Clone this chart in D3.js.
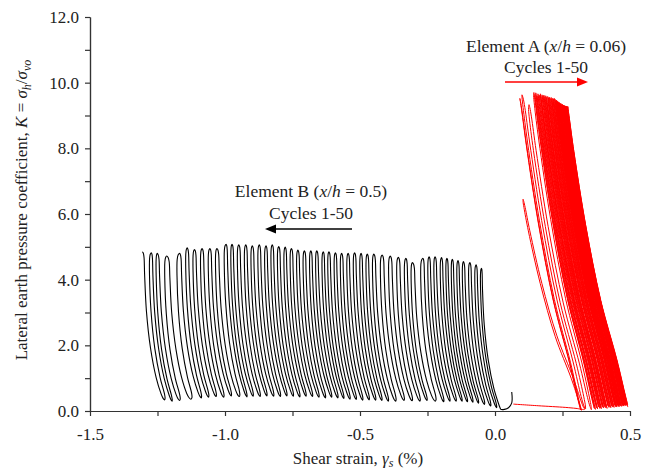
<!DOCTYPE html>
<html>
<head>
<meta charset="utf-8">
<script src="https://cdnjs.cloudflare.com/ajax/libs/d3/7.8.5/d3.min.js"></script>
<style>
  body { margin: 0; background: #fff; }
  svg text { font-family: "Liberation Serif", "Times New Roman", serif; fill: #222; }
</style>
</head>
<body>
<div id="chart"></div>
<script>
// ---------------- DATA ----------------
var xTickValues = [-1.5, -1.0, -0.5, 0.0, 0.5];
var xMinorTicks = [-1.25, -0.75, -0.25, 0.25];
var yTickValues = [0, 2, 4, 6, 8, 10, 12];
var yMinorTicks = [1, 3, 5, 7, 9, 11];

// Element B (x/h = 0.5), black, cycles 1 -> 50 (moving left)
var bStart = [[0.062, 0.58], [0.062, 0.25], [0.050, 0.10], [0.035, 0.05]];
var bTroughStrain = [0.022, 0.006, -0.016, -0.039, -0.061, -0.082, -0.102, -0.122, -0.144, -0.167,
  -0.190, -0.221, -0.252, -0.278, -0.307, -0.337, -0.368, -0.395, -0.419, -0.442,
  -0.466, -0.490, -0.514, -0.537, -0.560, -0.582, -0.605, -0.628, -0.652, -0.676,
  -0.700, -0.723, -0.747, -0.771, -0.795, -0.820, -0.845, -0.870, -0.896, -0.919,
  -0.947, -0.977, -1.005, -1.033, -1.061, -1.088, -1.126, -1.168, -1.196, -1.224];
var bTroughK = [0.05, 0.10, 0.15, 0.20, 0.24, 0.27, 0.28, 0.30, 0.30, 0.30,
  0.28, 0.30, 0.32, 0.30, 0.31, 0.32, 0.30, 0.30, 0.32, 0.33,
  0.34, 0.33, 0.35, 0.36, 0.38, 0.40, 0.42, 0.40, 0.42, 0.44,
  0.45, 0.43, 0.45, 0.46, 0.44, 0.45, 0.46, 0.44, 0.45, 0.43,
  0.44, 0.46, 0.42, 0.44, 0.42, 0.40, 0.36, 0.32, 0.30, 0.34];
var bPeakStrain = [-0.050, -0.070, -0.093, -0.117, -0.137, -0.158, -0.178, -0.198, -0.222, -0.244,
  -0.267, -0.306, -0.330, -0.358, -0.388, -0.418, -0.449, -0.473, -0.496, -0.520,
  -0.544, -0.568, -0.591, -0.615, -0.636, -0.660, -0.682, -0.706, -0.730, -0.754,
  -0.777, -0.801, -0.825, -0.848, -0.873, -0.899, -0.923, -0.949, -0.974, -0.996,
  -1.030, -1.056, -1.085, -1.113, -1.140, -1.168, -1.216, -1.251, -1.273, -1.306];
var bPeakK = [4.35, 4.45, 4.52, 4.55, 4.58, 4.62, 4.65, 4.67, 4.70, 4.70,
  4.65, 4.52, 4.65, 4.68, 4.72, 4.75, 4.78, 4.78, 4.80, 4.82,
  4.80, 4.80, 4.82, 4.85, 4.85, 4.88, 4.88, 4.88, 4.90, 4.95,
  4.99, 5.01, 5.06, 5.03, 5.06, 5.03, 5.06, 5.06, 5.08, 5.08,
  4.95, 4.95, 4.95, 4.92, 4.97, 4.80, 4.72, 4.80, 4.82, 4.85];
var bLean = -0.066;

// Element A (x/h = 0.06), red, cycles 1 -> 50 (moving right)
var aStart = [[0.068, 0.21], [0.160, 0.16], [0.260, 0.11], [0.300, 0.08]];
var aTroughStrain = [0.332, 0.320, 0.318, 0.335, 0.357, 0.368, 0.372, 0.376, 0.380, 0.384,
  0.388, 0.391, 0.394, 0.398, 0.402, 0.405, 0.409, 0.412, 0.415, 0.419,
  0.422, 0.425, 0.429, 0.432, 0.435, 0.438, 0.441, 0.444, 0.447, 0.449,
  0.451, 0.453, 0.456, 0.458, 0.460, 0.462, 0.464, 0.466, 0.469, 0.471,
  0.473, 0.475, 0.477, 0.479, 0.481, 0.483, 0.485, 0.487, 0.489, 0.491];
var aTroughK = [0.05, 0.02, 0.03, 0.06, 0.04, 0.08, 0.05, 0.10, 0.06, 0.12,
  0.08, 0.10, 0.07, 0.12, 0.09, 0.14, 0.10, 0.12, 0.08, 0.15,
  0.11, 0.13, 0.10, 0.16, 0.12, 0.14, 0.11, 0.17, 0.13, 0.15,
  0.12, 0.18, 0.14, 0.16, 0.13, 0.18, 0.15, 0.17, 0.14, 0.19,
  0.16, 0.18, 0.15, 0.20, 0.17, 0.19, 0.16, 0.20, 0.18, 0.20];
var aPeakStrain = [0.104, 0.092, 0.100, 0.126, 0.144, 0.148, 0.151, 0.156, 0.159, 0.164,
  0.168, 0.170, 0.174, 0.178, 0.181, 0.185, 0.188, 0.191, 0.195, 0.198,
  0.201, 0.205, 0.208, 0.211, 0.214, 0.217, 0.220, 0.223, 0.226, 0.228,
  0.230, 0.232, 0.235, 0.237, 0.239, 0.241, 0.243, 0.245, 0.248, 0.250,
  0.252, 0.254, 0.256, 0.258, 0.260, 0.262, 0.264, 0.266, 0.268, 0.270];
var aPeakK = [6.45, 9.52, 9.63, 9.33, 9.70, 9.64, 9.69, 9.60, 9.66, 9.62,
  9.66, 9.58, 9.63, 9.60, 9.62, 9.57, 9.60, 9.55, 9.58, 9.54,
  9.56, 9.52, 9.55, 9.50, 9.53, 9.50, 9.52, 9.49, 9.45, 9.47,
  9.42, 9.44, 9.40, 9.41, 9.37, 9.38, 9.35, 9.36, 9.33, 9.34,
  9.31, 9.32, 9.30, 9.30, 9.29, 9.29, 9.28, 9.28, 9.27, 9.27];
var aEnd = [0.492, 0.12];
var aLean = -0.222;

var shapeU = [0, 0.01, 0.04, 0.15, 0.35, 0.6, 0.85, 0.96, 0.99, 1];
var waveFrac = [0, 0.22, 0.38, 0.45, 0.48, 0.52, 0.55, 0.62, 0.78, 1];
var bLeanFrac = [0, 0.026, 0.10, 0.36, 0.67, 0.89, 0.985, 0.998, 1, 1];
var aLeanFrac = [0, 0.013, 0.05, 0.18, 0.45, 0.70, 0.90, 0.975, 0.995, 1];

// ---------------- CHART ----------------
var svgWidth = 666, svgHeight = 472;
var margin = { top: 17, right: 36, bottom: 61, left: 90 };
var chartWidth = svgWidth - margin.left - margin.right;
var chartHeight = svgHeight - margin.top - margin.bottom;

var svg = d3.select("#chart").append("svg")
  .attr("width", svgWidth)
  .attr("height", svgHeight);

var chartGroup = svg.append("g")
  .attr("transform", `translate(${margin.left}, ${margin.top})`);

var xScale = d3.scaleLinear().domain([-1.5, 0.5]).range([0, chartWidth]);
var yScale = d3.scaleLinear().domain([0, 12]).range([chartHeight, 0]);

// build the point list of one element: start -> (trough, peak) x 50 -> end
function loopPoints(start, tX, tK, pX, pK, lean, leanFrac, end) {
  var pts = start.slice();
  var n = pX.length;
  for (var i = 0; i < n; i++) {
    // rising branch, trough i -> peak i
    var span = pX[i] - tX[i] - lean;
    for (var j = 0; j < shapeU.length; j++) {
      pts.push([tX[i] + leanFrac[j] * lean + waveFrac[j] * span,
                tK[i] + shapeU[j] * (pK[i] - tK[i])]);
    }
    // falling branch, peak i -> next trough
    var nx, nk;
    if (i + 1 < n) { nx = tX[i + 1]; nk = tK[i + 1]; }
    else if (end) { nx = end[0]; nk = end[1]; }
    else break;
    var span2 = pX[i] - nx - lean;
    for (var k = shapeU.length - 2; k >= 1; k--) {
      pts.push([nx + leanFrac[k] * lean + waveFrac[k] * span2,
                nk + shapeU[k] * (pK[i] - nk)]);
    }
    if (i + 1 >= n) pts.push([nx, nk]);
  }
  return pts;
}

var line = d3.line()
  .x(d => xScale(d[0]))
  .y(d => yScale(d[1]))
  .curve(d3.curveCatmullRom.alpha(0.5));

// red first so the black start hook sits on top of it
chartGroup.append("path")
  .attr("d", line(loopPoints(aStart, aTroughStrain, aTroughK, aPeakStrain, aPeakK, aLean, aLeanFrac, aEnd)))
  .attr("fill", "none")
  .attr("stroke", "#ff0000")
  .attr("stroke-width", 1);

chartGroup.append("path")
  .attr("d", line(loopPoints(bStart, bTroughStrain, bTroughK, bPeakStrain, bPeakK, bLean, bLeanFrac, null)))
  .attr("fill", "none")
  .attr("stroke", "#000")
  .attr("stroke-width", 1.1);

// AXES
chartGroup.append("g")
  .attr("transform", `translate(0, ${chartHeight})`)
  .call(d3.axisBottom(xScale).tickValues(xTickValues).tickFormat(d => d.toFixed(1))
    .tickSizeInner(5).tickSizeOuter(0).tickPadding(12));
chartGroup.append("g")
  .attr("transform", `translate(0, ${chartHeight})`)
  .call(d3.axisBottom(xScale).tickValues(xMinorTicks).tickFormat("")
    .tickSizeInner(5).tickSizeOuter(0));

chartGroup.append("g")
  .call(d3.axisLeft(yScale).tickValues(yTickValues).tickFormat(d => d.toFixed(1))
    .tickSizeInner(5).tickSizeOuter(0).tickPadding(6));
chartGroup.append("g")
  .call(d3.axisLeft(yScale).tickValues(yMinorTicks).tickFormat("")
    .tickSizeInner(5).tickSizeOuter(0));

chartGroup.selectAll(".domain, .tick line").attr("stroke", "#333").attr("stroke-width", 1.2);
chartGroup.selectAll(".tick text")
  .style("font-family", '"Liberation Serif", "Times New Roman", serif')
  .style("font-size", "17px")
  .attr("fill", "#222");

// AXIS TITLES
var xTitle = svg.append("text")
  .attr("x", margin.left + chartWidth / 2 - 2)
  .attr("y", 464)
  .attr("text-anchor", "middle")
  .style("font-size", "17px");
xTitle.append("tspan").text("Shear strain, ");
xTitle.append("tspan").style("font-style", "italic").text("γ");
xTitle.append("tspan").style("font-style", "italic").style("font-size", "12px").attr("dy", 3).text("s");
xTitle.append("tspan").attr("dy", -3).text(" (%)");

var yTitle = svg.append("text")
  .attr("transform", `translate(27, ${margin.top + chartHeight / 2 - 4}) rotate(-90)`)
  .attr("text-anchor", "middle")
  .style("font-size", "17px");
yTitle.append("tspan").text("Lateral earth pressure coefficient, ");
yTitle.append("tspan").style("font-style", "italic").text("K");
yTitle.append("tspan").text(" = ");
yTitle.append("tspan").style("font-style", "italic").text("σ");
yTitle.append("tspan").style("font-style", "italic").style("font-size", "12px").attr("dy", 4).text("h");
yTitle.append("tspan").attr("dy", -4).text("/");
yTitle.append("tspan").style("font-style", "italic").text("σ");
yTitle.append("tspan").style("font-style", "italic").style("font-size", "12px").attr("dy", 4).text("vo");

// ANNOTATIONS
function elementLabel(x, y, name, ratio) {
  var t = svg.append("text").attr("x", x).attr("y", y)
    .attr("text-anchor", "middle").style("font-size", "17.5px");
  t.append("tspan").text("Element " + name + " (");
  t.append("tspan").style("font-style", "italic").text("x");
  t.append("tspan").text("/");
  t.append("tspan").style("font-style", "italic").text("h");
  t.append("tspan").text(" = " + ratio + ")");
}
elementLabel(311, 197, "B", "0.5");
svg.append("text").attr("x", 311).attr("y", 219).attr("text-anchor", "middle")
  .style("font-size", "17.5px").text("Cycles 1-50");
elementLabel(546, 52, "A", "0.06");
svg.append("text").attr("x", 546).attr("y", 73).attr("text-anchor", "middle")
  .style("font-size", "17.5px").text("Cycles 1-50");

function arrow(x1, x2, y, color) {
  var dir = x2 > x1 ? 1 : -1;
  svg.append("line")
    .attr("x1", x1).attr("y1", y).attr("x2", x2 - dir * 8).attr("y2", y)
    .attr("stroke", color).attr("stroke-width", 1.5);
  svg.append("path")
    .attr("d", `M${x2},${y} L${x2 - dir * 11},${y - 4.5} L${x2 - dir * 11},${y + 4.5} Z`)
    .attr("fill", color);
}
arrow(352, 265, 229, "#000");
arrow(505, 588, 82, "#ff0000");
</script>
</body>
</html>
